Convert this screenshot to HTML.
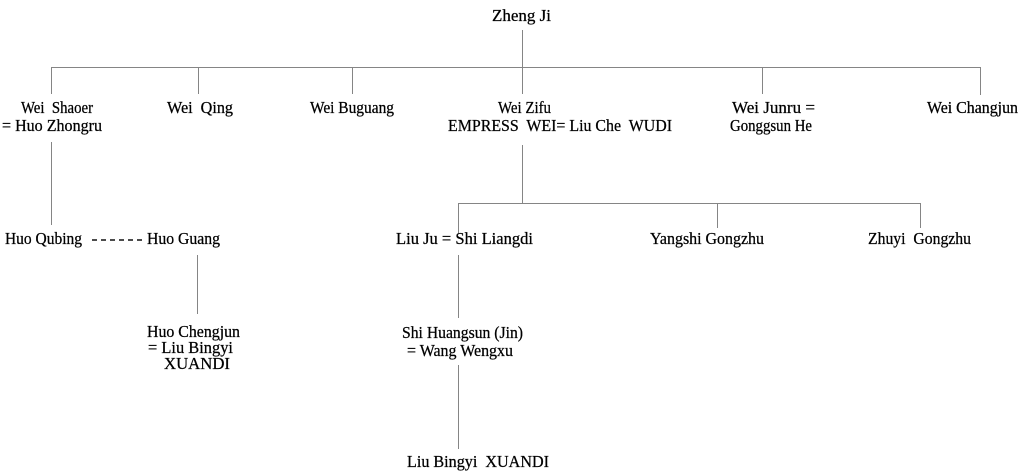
<!DOCTYPE html>
<html>
<head>
<meta charset="utf-8">
<style>
  html,body{margin:0;padding:0;background:#fff;}
  svg{display:block;}
  text{font-family:"Liberation Serif","Times New Roman",serif;font-size:16.5px;fill:#000;stroke:#000;stroke-width:0.25;white-space:pre;}
  line{stroke:#858585;stroke-width:1;}
</style>
</head>
<body>
<svg width="1024" height="476" viewBox="0 0 1024 476" xmlns="http://www.w3.org/2000/svg">
  <!-- connectors -->
  <line x1="522.5" y1="30" x2="522.5" y2="94"/>
  <line x1="51" y1="67.5" x2="980" y2="67.5"/>
  <line x1="51.5" y1="67" x2="51.5" y2="94"/>
  <line x1="198.5" y1="67" x2="198.5" y2="94"/>
  <line x1="352.5" y1="67" x2="352.5" y2="94"/>
  <line x1="762.5" y1="67" x2="762.5" y2="94"/>
  <line x1="980.5" y1="67" x2="980.5" y2="95"/>

  <line x1="51.5" y1="142" x2="51.5" y2="225"/>
  <line x1="197.5" y1="255" x2="197.5" y2="314"/>

  <line x1="522.5" y1="145" x2="522.5" y2="203"/>
  <line x1="458" y1="203.5" x2="921" y2="203.5"/>
  <line x1="458.5" y1="203" x2="458.5" y2="233"/>
  <line x1="717.5" y1="203" x2="717.5" y2="228"/>
  <line x1="920.5" y1="203" x2="920.5" y2="228"/>

  <line x1="458.5" y1="255" x2="458.5" y2="318"/>
  <line x1="458.5" y1="365" x2="458.5" y2="449"/>

  <!-- dashed link -->
  <line x1="92" y1="240" x2="97" y2="240" style="stroke:#111;stroke-width:1.5"/>
  <line x1="101" y1="240" x2="106" y2="240" style="stroke:#111;stroke-width:1.5"/>
  <line x1="110" y1="240" x2="115" y2="240" style="stroke:#111;stroke-width:1.5"/>
  <line x1="119" y1="240" x2="124" y2="240" style="stroke:#111;stroke-width:1.5"/>
  <line x1="128" y1="240" x2="133" y2="240" style="stroke:#111;stroke-width:1.5"/>
  <line x1="137" y1="240" x2="142" y2="240" style="stroke:#111;stroke-width:1.5"/>

  <!-- labels -->
  <text x="492" y="21" textLength="59" lengthAdjust="spacingAndGlyphs">Zheng Ji</text>

  <text x="21" y="113" textLength="72" lengthAdjust="spacingAndGlyphs">Wei  Shaoer</text>
  <text x="2" y="131" textLength="100" lengthAdjust="spacingAndGlyphs">= Huo Zhongru</text>
  <text x="167" y="113" textLength="66" lengthAdjust="spacingAndGlyphs">Wei  Qing</text>
  <text x="310" y="113" textLength="84" lengthAdjust="spacingAndGlyphs">Wei Buguang</text>
  <text x="498" y="113" textLength="53" lengthAdjust="spacingAndGlyphs">Wei Zifu</text>
  <text x="448" y="131" textLength="224" lengthAdjust="spacingAndGlyphs">EMPRESS  WEI= Liu Che  WUDI</text>
  <text x="732" y="113" textLength="83" lengthAdjust="spacingAndGlyphs">Wei Junru =</text>
  <text x="730" y="131" textLength="82" lengthAdjust="spacingAndGlyphs">Gonggsun He</text>
  <text x="927" y="113" textLength="91" lengthAdjust="spacingAndGlyphs">Wei Changjun</text>

  <text x="5" y="244" textLength="77" lengthAdjust="spacingAndGlyphs">Huo Qubing</text>
  <text x="147" y="244" textLength="73" lengthAdjust="spacingAndGlyphs">Huo Guang</text>
  <text x="396" y="244" textLength="137" lengthAdjust="spacingAndGlyphs">Liu Ju = Shi Liangdi</text>
  <text x="650" y="244" textLength="114" lengthAdjust="spacingAndGlyphs">Yangshi Gongzhu</text>
  <text x="868" y="244" textLength="103" lengthAdjust="spacingAndGlyphs">Zhuyi  Gongzhu</text>

  <text x="147" y="337" textLength="93" lengthAdjust="spacingAndGlyphs">Huo Chengjun</text>
  <text x="148" y="353" textLength="85" lengthAdjust="spacingAndGlyphs">= Liu Bingyi</text>
  <text x="164" y="369" textLength="66" lengthAdjust="spacingAndGlyphs">XUANDI</text>

  <text x="402" y="338" textLength="121" lengthAdjust="spacingAndGlyphs">Shi Huangsun (Jin)</text>
  <text x="407" y="356" textLength="106" lengthAdjust="spacingAndGlyphs">= Wang Wengxu</text>

  <text x="407" y="467" textLength="142" lengthAdjust="spacingAndGlyphs">Liu Bingyi  XUANDI</text>
</svg>
</body>
</html>
